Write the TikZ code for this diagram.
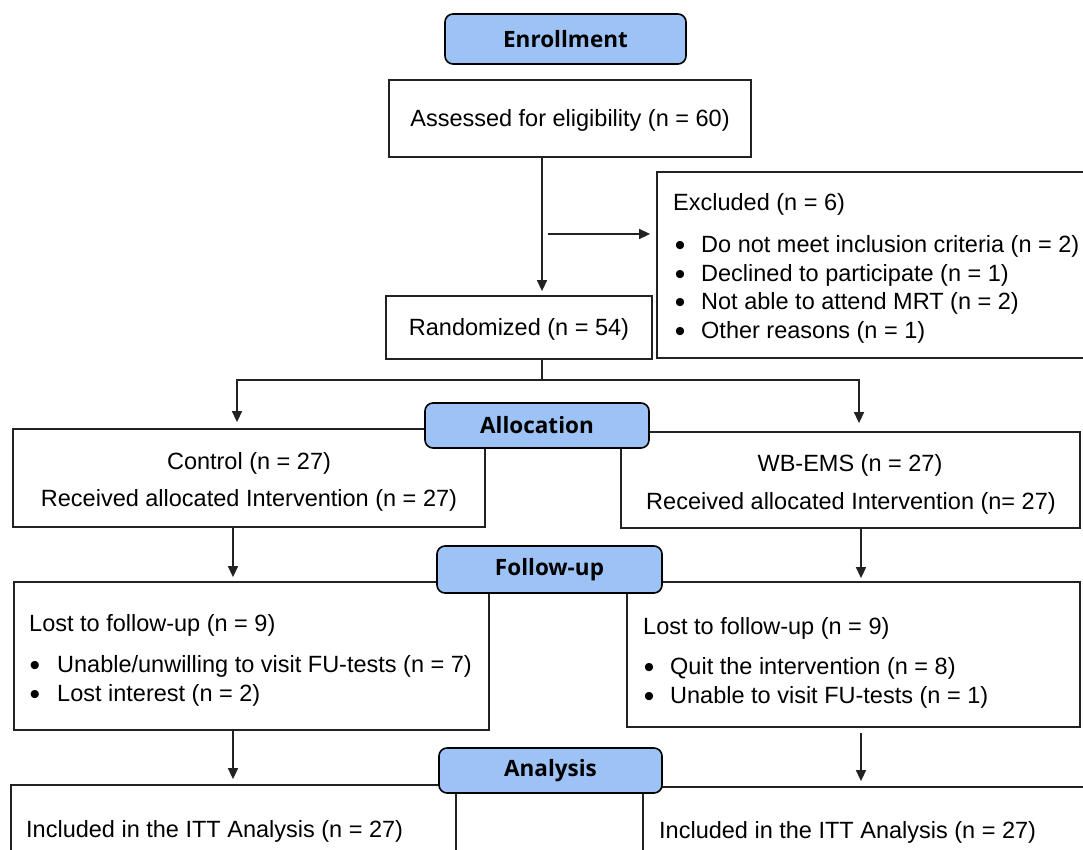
\documentclass[tikz,border=0pt]{standalone}
\usepackage{fontspec}
\setmainfont{Liberation Sans}
\newfontfamily\hdrfont{Open Sans}
\usetikzlibrary{arrows.meta}
\definecolor{hdrblue}{HTML}{9DC3F6}
\definecolor{linec}{HTML}{222222}
\begin{document}
\begin{tikzpicture}[x=1pt,y=-1pt,
  font=\fontsize{23.5}{28}\selectfont,
  box/.style={draw=linec, line width=1.8pt, fill=white, inner sep=0pt},
  hdr/.style={draw=black, line width=1.6pt, fill=hdrblue, rounded corners=8pt,
    font=\hdrfont\bfseries\fontsize{22.5}{26}\selectfont, inner sep=0pt},
  txt/.style={inner sep=0pt, text=black, yshift=-2pt},
  txtw/.style={inner sep=0pt, anchor=west, text=black, yshift=-2pt},
  bul/.style={inner sep=0pt, text=black, yshift=-5.5pt, text height=12pt, text depth=0pt,
    font=\fontsize{30}{30}\selectfont},
  ln/.style={draw=linec, line width=1.5pt},
  arr/.style={draw=linec, line width=1.5pt, -{Triangle[length=11pt,width=10pt]}}]
\useasboundingbox (0,0) rectangle (1083,850);
\clip (0,0) rectangle (1083,850);
\fill[white] (0,0) rectangle (1083,850);

% coordinates for connector columns
\coordinate (spine) at (542,0);
\coordinate (cl) at (233,0);
\coordinate (cr) at (861,0);
\coordinate (split) at (542,380);
\coordinate (splitL) at (237,380);
\coordinate (splitR) at (859,380);
\coordinate (exs) at (548,234);

% boxes
\node[box, minimum width=362pt, minimum height=77pt] (assess) at (570,118.5) {};
\node[box, minimum width=433pt, minimum height=186pt] (excl) at (873.5,265) {};
\node[box, minimum width=266pt, minimum height=63pt] (rand) at (519,327.5) {};
\node[box, minimum width=472pt, minimum height=98pt] (ctrl) at (249,478) {};
\node[box, minimum width=459pt, minimum height=96pt] (wb) at (850.5,480) {};
\node[box, minimum width=475pt, minimum height=148pt] (fuL) at (251.5,656) {};
\node[box, minimum width=453pt, minimum height=145pt] (fuR) at (853.5,654.5) {};
\node[box, minimum width=445pt, minimum height=115pt] (anL) at (233.5,842.5) {};
\node[box, minimum width=447pt, minimum height=113pt] (anR) at (866.5,843.5) {};

% texts
\node[txt] (t1) at (570,118) {Assessed for eligibility (n = 60)};
\node[txtw] (t2) at (673,202) {Excluded (n = 6)};
\node[bul] (b1) at (680,244) {\textbullet};
\node[txtw] (t3) at (701,244) {Do not meet inclusion criteria (n = 2)};
\node[bul] (b2) at (680,273) {\textbullet};
\node[txtw] (t4) at (701,273) {Declined to participate (n = 1)};
\node[bul] (b3) at (680,301) {\textbullet};
\node[txtw] (t5) at (701,301) {Not able to attend MRT (n = 2)};
\node[bul] (b4) at (680,330) {\textbullet};
\node[txtw] (t6) at (701,330) {Other reasons (n = 1)};
\node[txt] (t7) at (519,327) {Randomized (n = 54)};
\node[txt] (t8) at (249,461) {Control (n = 27)};
\node[txt] (t9) at (249,498) {Received allocated Intervention (n = 27)};
\node[txt] (t10) at (850,463) {WB-EMS (n = 27)};
\node[txt] (t11) at (851,501) {Received allocated Intervention (n= 27)};
\node[txtw] (t12) at (29,623) {Lost to follow-up (n = 9)};
\node[bul] (b5) at (35,664) {\textbullet};
\node[txtw] (t13) at (57,664) {Unable/unwilling to visit FU-tests (n = 7)};
\node[bul] (b6) at (35,693) {\textbullet};
\node[txtw] (t14) at (57,693) {Lost interest (n = 2)};
\node[txtw] (t15) at (643,626) {Lost to follow-up (n = 9)};
\node[bul] (b7) at (649,666) {\textbullet};
\node[txtw] (t16) at (670,666) {Quit the intervention (n = 8)};
\node[bul] (b8) at (649,695) {\textbullet};
\node[txtw] (t17) at (670,695) {Unable to visit FU-tests (n = 1)};
\node[txtw] (t18) at (26,829) {Included in the ITT Analysis (n = 27)};
\node[txtw] (t19) at (659,830) {Included in the ITT Analysis (n = 27)};

% connectors
\draw[arr, shorten >=4pt] (assess.south -| spine) -- (rand.north -| spine);
\draw[arr, shorten >=6pt] (exs) -- (excl.west |- exs);
\draw[ln] (rand.south -| spine) -- (split);
\draw[arr, shorten >=6pt] (split) -| (ctrl.north -| splitL);
\draw[arr, shorten >=8pt] (split) -| (wb.north -| splitR);
\draw[arr, shorten >=4pt] (ctrl.south -| cl) -- (fuL.north -| cl);
\draw[arr, shorten >=3pt] (wb.south -| cr) -- (fuR.north -| cr);
\draw[arr, shorten >=5pt] (fuL.south -| cl) -- (anL.north -| cl);
\draw[arr, shorten <=5pt, shorten >=5pt] (fuR.south -| cr) -- (anR.north -| cr);

% phase headers
\node[hdr, minimum width=241pt, minimum height=50pt] (enr) at (565.5,39) {Enrollment};
\node[hdr, minimum width=224pt, minimum height=45pt] (alloc) at (537,425.5) {Allocation};
\node[hdr, minimum width=225pt, minimum height=47pt] (fu) at (549.5,569.5) {Follow-up};
\node[hdr, minimum width=223pt, minimum height=45pt] (ana) at (550.5,770.5) {Analysis};
\end{tikzpicture}
\end{document}
